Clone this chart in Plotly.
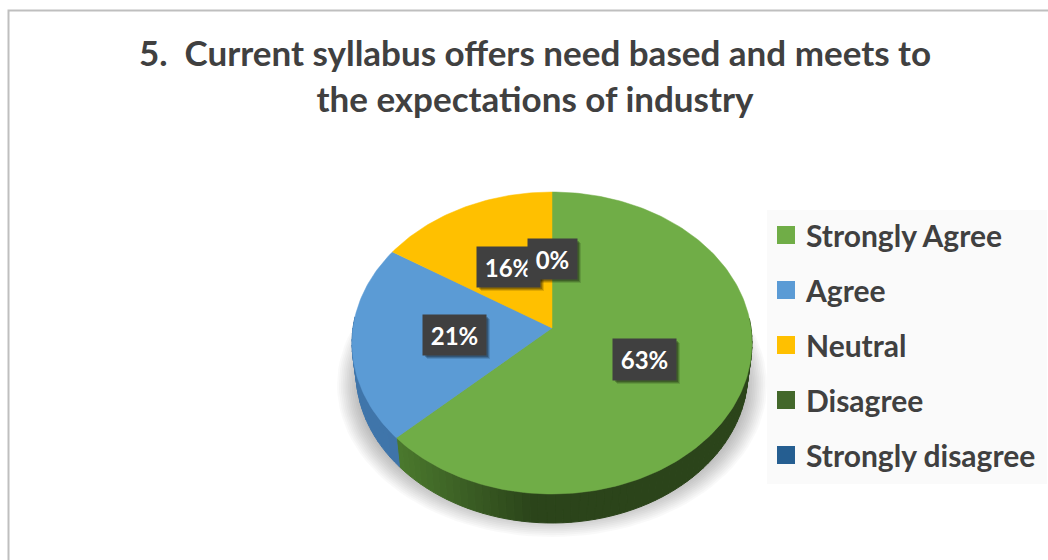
import math
import plotly.graph_objects as go

# ---- data ----
categories = ["Strongly Agree", "Agree", "Neutral", "Disagree", "Strongly disagree"]
values = [63, 21, 16, 0, 0]
top_colors = ["#70AD47", "#5B9BD5", "#FFC000", "#43682B", "#255E91"]
side_colors_near = ["#2B441A", "#3C6A98", "#BF9000", "#2B441A", "#255E91"]
side_colors_far = ["#4E7F2F", "#3F75AA", "#BF9000", "#43682B", "#255E91"]
label_text = ["63%", "21%", "16%", "0%"]
label_boxes = [(613, 339, 676, 380), (423, 315, 486, 355), (477, 247, 540, 287), (528, 239, 577, 279)]
title_text = "5.  Current syllabus offers need based and meets to<br>the expectations of industry"

# ---- pie projection parameters ----
CX, CY = 552, 328
RX, RY = 199, 149.5
PERSP = 0.0993
DEPTH = 29
BASE_SHRINK = 0.98
FONT = "Lato"
TEXT = "#404040"


def rim(frac):
    t = 2 * math.pi * frac
    d = 1 + PERSP * math.cos(t)
    return CX + RX * math.sin(t) / d, CY - RY * math.cos(t) / d


def base(x, y):
    return CX + (x - CX) * BASE_SHRINK, y + DEPTH


def mix(a, b, f):
    f = max(0, min(1, f))
    ca = [int(a[i:i + 2], 16) for i in (1, 3, 5)]
    cb = [int(b[i:i + 2], 16) for i in (1, 3, 5)]
    return "#" + "".join(f"{round(x + (y - x) * f):02x}" for x, y in zip(ca, cb))


fig = go.Figure()

# soft shadow below the pie
LAYERS = 14
for i in range(LAYERS):
    f = i / (LAYERS - 1)
    rx, ry = 215 - 24 * f, 152 - 24 * f
    xs, ys = [], []
    for k in range(121):
        a = 2 * math.pi * k / 120
        xs.append(CX + rx * math.cos(a))
        ys.append(385 + ry * math.sin(a))
    fig.add_trace(go.Scatter(x=xs, y=ys, mode="lines", fill="toself", line_width=0,
                             fillcolor="rgba(0,0,0,0.025)", showlegend=False, hoverinfo="skip"))

total = sum(values)
# side wall
start = 0.0
STEP = 0.006
for name, v, near, far in zip(categories, values, side_colors_near, side_colors_far):
    frac = v / total
    n = max(1, int(frac / STEP))
    for j in range(n if v else 0):
        a0 = start + frac * j / n
        a1 = start + frac * (j + 1) / n
        if not (0.24 < (a0 + a1) / 2 < 0.76):
            continue
        x0, y0 = rim(a0)
        x1, y1 = rim(a1)
        bx0, by0 = base(x0, y0)
        bx1, by1 = base(x1, y1)
        col = mix(near, far, ((CX - 20) - (x0 + x1) / 2) / 150)
        fig.add_trace(go.Scatter(x=[x0, x1, bx1, bx0, x0], y=[y0, y1, by1, by0, y0],
                                 mode="lines", fill="toself", line=dict(color=col, width=1),
                                 fillcolor=col, showlegend=False, hoverinfo="skip"))
    start += frac

# top face
start = 0.0
for name, v, col in zip(categories, values, top_colors):
    frac = v / total
    if v:
        n = max(2, int(frac * 300))
        pts = [rim(start + frac * j / n) for j in range(n + 1)]
        xs = [CX] + [p[0] for p in pts] + [CX]
        ys = [CY] + [p[1] for p in pts] + [CY]
        fig.add_trace(go.Scatter(x=xs, y=ys, mode="lines", fill="toself", line=dict(color=col, width=0.5),
                                 fillcolor=col, name=name, showlegend=False,
                                 text=f"{name}: {v}%", hoverinfo="text"))
    start += frac

# legend entries
for name, col in zip(categories, top_colors):
    fig.add_trace(go.Scatter(x=[None], y=[None], mode="markers", name=name, legendgroup=name,
                             marker=dict(symbol="square", size=16, color=col, line=dict(color=col, width=2))))

shapes = [
    dict(type="rect", x0=8.5, y0=10.5, x1=1070, y1=580, line=dict(color="#BFBFBF", width=2), layer="below"),
    dict(type="rect", x0=767, y0=210, x1=1047, y1=484, fillcolor="#FAFAFA", line_width=0, layer="above"),
]
annotations = []
for txt, (x0, y0, x1, y1) in zip(label_text, label_boxes):
    for off, op in ((4, 0.12), (3, 0.18), (2, 0.22)):
        shapes.append(dict(type="rect", x0=x0 + off, y0=y0 + off, x1=x1 + off, y1=y1 + off,
                           fillcolor="#000000", opacity=op, line_width=0, layer="above"))
for txt, (x0, y0, x1, y1) in zip(label_text, label_boxes):
    annotations.append(dict(x=(x0 + x1) / 2, y=(y0 + y1) / 2, xref="x", yref="y", text=f"<b>{txt}</b>",
                            showarrow=False, width=x1 - x0, height=y1 - y0, bgcolor="#404040",
                            borderpad=0, align="center", valign="middle",
                            font=dict(family=FONT, size=24, color="white")))

fig.update_layout(
    width=1048, height=560, margin=dict(l=0, r=0, t=0, b=0),
    paper_bgcolor="white", plot_bgcolor="white",
    title=dict(text=f"<b>{title_text}</b>", x=535 / 1048, xanchor="center", y=1 - 66 / 560, yanchor="middle",
               font=dict(family=FONT, size=35, color=TEXT)),
    xaxis=dict(range=[0, 1048], visible=False, fixedrange=True),
    yaxis=dict(range=[560, 0], visible=False, fixedrange=True),
    legend=dict(x=766 / 1048, y=1 - 209 / 560, xanchor="left", yanchor="top", bgcolor="rgba(0,0,0,0)",
                font=dict(family=FONT, size=30, color=TEXT, weight=700),
                tracegroupgap=13, itemwidth=30),
    shapes=shapes, annotations=annotations,
)
fig.write_html("out.html", post_script="document.body.style.margin='0';", config={"displayModeBar": False})
